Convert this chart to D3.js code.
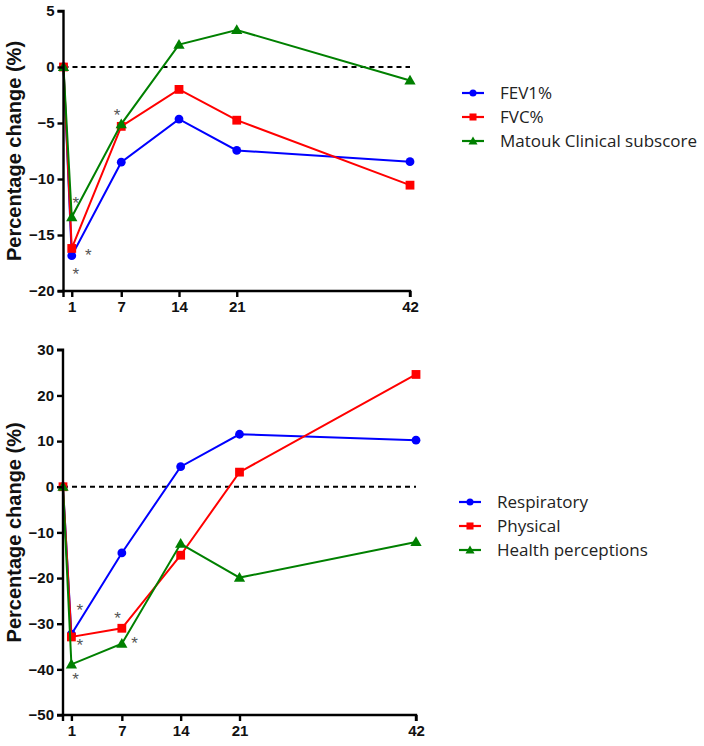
<!DOCTYPE html>
<html><head><meta charset="utf-8">
<script src="https://cdn.jsdelivr.net/npm/d3@7"></script>
<style>body{margin:0;background:#fff}svg{display:block}</style>
</head><body>
<svg id="c" width="704" height="746"></svg>
<script>
const days = [0, 1, 7, 14, 21, 42];
const dayTicks = [1, 7, 14, 21, 42];

const topNames = ["FEV1%", "FVC%", "Matouk Clinical subscore"];
const topFEV1 = [0, -16.85, -8.5, -4.65, -7.45, -8.45];
const topFVC = [0, -16.2, -5.3, -2.0, -4.75, -10.55];
const topMatouk = [0, -13.4, -5.1, 2.0, 3.3, -1.2];
const topYTicks = [5, 0, -5, -10, -15, -20];
const topStars = [[1.5, -12.0], [3, -16.6], [1.5, -18.3], [6.5, -4.1]];

const botNames = ["Respiratory", "Physical", "Health perceptions"];
const botResp = [0, -32.3, -14.5, 4.4, 11.5, 10.2];
const botPhys = [0, -32.9, -31.0, -15.0, 3.2, 24.6];
const botHealth = [0, -38.9, -34.4, -12.5, -19.9, -12.1];
const botYTicks = [30, 20, 10, 0, -10, -20, -30, -40, -50];
const botStars = [[2, -26.5], [2, -34.3], [1.5, -41.6], [6.5, -28.4], [8.5, -33.8]];

const colors = ["#0000ff", "#ff0000", "#008000"];
const shapes = ["circle", "square", "triangle"];

const svg = d3.select("#c");

function marker(g, shape, color, x, y, s) {
  if (shape === "circle") g.append("circle").attr("cx", x).attr("cy", y).attr("r", 4.4 * s).attr("fill", color);
  else if (shape === "square") g.append("rect").attr("x", x - 4.4 * s).attr("y", y - 4.4 * s).attr("width", 8.8 * s).attr("height", 8.8 * s).attr("fill", color);
  else g.append("path").attr("d", d3.symbol(d3.symbolTriangle, 55 * s * s)()).attr("transform", `translate(${x},${y + 0.8})`).attr("fill", color);
}

function panel(cfg) {
  const g = svg.append("g");
  const x = d3.scaleLinear().domain([0, 42]).range(cfg.xr);
  const y = d3.scaleLinear().domain(cfg.yd).range(cfg.yr);
  g.append("line").attr("x1", x(0)).attr("x2", x(42)).attr("y1", y(0)).attr("y2", y(0))
    .attr("stroke", "#000").attr("stroke-width", 2).attr("stroke-dasharray", "5,4");
  cfg.series.forEach((vals, i) => {
    const pts = days.map((d, j) => [x(d), y(vals[j])]);
    g.append("path").attr("d", d3.line()(pts)).attr("fill", "none").attr("stroke", colors[i]).attr("stroke-width", 2);
    pts.forEach(p => marker(g, shapes[i], colors[i], p[0], p[1], 1));
  });
  const ya = g.append("g").attr("transform", `translate(${cfg.xr[0]},0)`)
    .call(d3.axisLeft(y).tickValues(cfg.yticks).tickSize(6).tickPadding(3).tickFormat(d3.format("d")));
  const xa = g.append("g").attr("transform", `translate(0,${cfg.yr[0]})`)
    .call(d3.axisBottom(x).tickValues(dayTicks).tickSize(6).tickPadding(4).tickFormat(d3.format("d")));
  [ya, xa].forEach(a => {
    a.select(".domain").attr("stroke", "#000").attr("stroke-width", 2.4);
    a.selectAll(".tick line").attr("stroke", "#000").attr("stroke-width", 2.4);
    a.selectAll("text").attr("font-family", "Liberation Sans, Arial, sans-serif").attr("font-weight", "bold")
      .attr("font-size", 15).attr("fill", "#111");
  });
  xa.select(".domain").attr("d", `M${x(0)},6V0H${x(42)}V6`);
  ya.select(".domain").attr("d", `M-6,${cfg.yr[0]}H0V${cfg.yr[1]}H-6`);
  g.append("text").attr("transform", `translate(21,${(cfg.yr[0] + cfg.yr[1]) / 2}) rotate(-90)`)
    .attr("text-anchor", "middle").attr("font-family", "Liberation Sans, Arial, sans-serif")
    .attr("font-weight", "bold").attr("font-size", 20).attr("fill", "#111").text("Percentage change (%)");
  cfg.stars.forEach(s => {
    g.append("text").attr("x", x(s[0])).attr("y", y(s[1]) + 8).attr("text-anchor", "middle")
      .attr("font-family", "Liberation Sans, Arial, sans-serif").attr("font-size", 17).attr("fill", "#555").text("*");
  });
  cfg.names.forEach((n, i) => {
    const ly = cfg.ly + i * 24;
    g.append("line").attr("x1", cfg.lx).attr("x2", cfg.lx + 22).attr("y1", ly).attr("y2", ly)
      .attr("stroke", colors[i]).attr("stroke-width", 2.2);
    marker(g, shapes[i], colors[i], cfg.lx + 11, ly, 0.8);
    g.append("text").attr("x", cfg.lx + 38).attr("y", ly + 6).attr("font-family", "Open Sans, Noto Sans, sans-serif")
      .attr("font-size", 17).attr("fill", "#222").text(n);
  });
}

panel({ xr: [63.5, 410], yd: [-20, 5], yr: [291, 11], yticks: topYTicks,
  series: [topFEV1, topFVC, topMatouk], stars: topStars, names: topNames, lx: 462, ly: 93 });
panel({ xr: [63, 416], yd: [-50, 30], yr: [715, 349.8], yticks: botYTicks,
  series: [botResp, botPhys, botHealth], stars: botStars, names: botNames, lx: 459, ly: 502 });
</script>
</body></html>
